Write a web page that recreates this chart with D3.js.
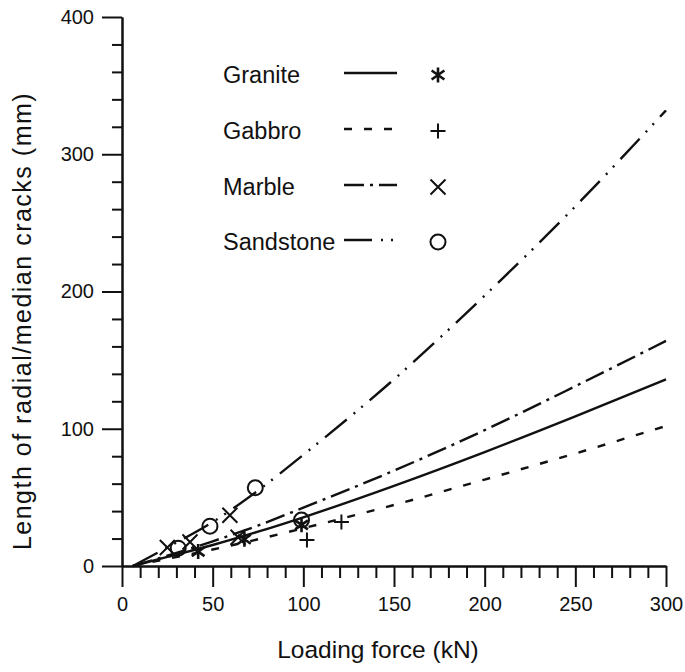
<!DOCTYPE html>
<html>
<head>
<meta charset="utf-8">
<script src="https://cdn.jsdelivr.net/npm/d3@7"></script>
<style>
  body { margin: 0; background: #fff; }
  svg text { font-family: "Liberation Sans", Arial, Helvetica, sans-serif; fill: #111; }
  .axis path, .axis line { stroke: #111; stroke-width: 2; }
</style>
</head>
<body>
<div id="chart"></div>
<script>
//DATA
const xTicks = [0, 50, 100, 150, 200, 250, 300];
const yTicks = [0, 100, 200, 300, 400];
const names  = ["Granite", "Gabbro", "Marble", "Sandstone"];

// fitted curves, [force kN, length mm]
const graniteCurve   = [[6,0],[25,6.6],[50,15.3],[75,25],[100,35.5],[150,58.4],[200,83],[250,109],[300,136]];
const gabbroCurve    = [[6,0],[25,5.2],[50,12],[75,19.5],[100,27.5],[150,44.5],[200,63],[250,82],[300,102]];
const marbleCurve    = [[6,0],[25,7.5],[50,18],[75,29.5],[100,42.5],[150,69.5],[200,99],[250,131],[300,164]];
const sandstoneCurve = [[6,0],[25,13.5],[50,32],[75,55],[100,81],[150,136],[200,197],[250,262],[300,332]];

// measured points
const granitePts   = [[42,10.5],[67.5,19.5],[99,30]];
const gabbroPts    = [[102,19],[121,32]];
const marblePts    = [[25,13.5],[37.5,17.5],[59.5,37],[64,21]];
const sandstonePts = [[31,13],[48.5,29],[73.5,57],[99,33.5]];

//LAYOUT
const W = 685, H = 672;
const x = d3.scaleLinear().domain([0, 300]).range([122, 666]);
const y = d3.scaleLinear().domain([0, 400]).range([566, 17]);

const svg = d3.select("#chart").append("svg")
  .attr("width", W).attr("height", H);

//Axes
svg.append("g").attr("class","axis").attr("transform","translate(0,566)")
  .call(d3.axisBottom(x).tickValues(d3.range(0, 301, 10).filter(v => v % 50)).tickSize(12).tickSizeOuter(0).tickFormat(""));
svg.append("g").attr("class","axis").attr("transform","translate(0,566)")
  .call(d3.axisBottom(x).tickValues(xTicks).tickSize(21).tickSizeOuter(0).tickPadding(10))
  .call(g => g.selectAll("text").attr("font-size", 20));

svg.append("g").attr("class","axis").attr("transform","translate(122,0)")
  .call(d3.axisLeft(y).tickValues(d3.range(0, 401, 20).filter(v => v % 100)).tickSize(10).tickSizeOuter(0).tickFormat(""));
svg.append("g").attr("class","axis").attr("transform","translate(122,0)")
  .call(d3.axisLeft(y).tickValues(yTicks).tickSize(20).tickSizeOuter(0).tickPadding(8))
  .call(g => g.selectAll("text").attr("font-size", 20));

svg.selectAll(".axis text").style("font-family", '"Liberation Sans", Arial, sans-serif');

//Axis titles
svg.append("text").attr("x", 378).attr("y", 658).attr("text-anchor","middle")
  .attr("font-size", 24.5).text("Loading force (kN)");
svg.append("text").attr("transform","translate(31,321) rotate(-90)").attr("text-anchor","middle")
  .attr("font-size", 25).attr("letter-spacing", 1.5).text("Length of radial/median cracks (mm)");

//Line styles
const dashes = {
  Granite: null,
  Gabbro: "8,12",
  Marble: "20,6,3,6",
  Sandstone: "28,9,2,8,2,9"
};
const curves = {Granite: graniteCurve, Gabbro: gabbroCurve, Marble: marbleCurve, Sandstone: sandstoneCurve};
const points = {Granite: granitePts, Gabbro: gabbroPts, Marble: marblePts, Sandstone: sandstonePts};

const line = d3.line().x(d => x(d[0])).y(d => y(d[1])).curve(d3.curveMonotoneX);

names.forEach(n => {
  svg.append("path").attr("d", line(curves[n]))
    .attr("fill","none").attr("stroke","#111").attr("stroke-width", 2.4)
    .attr("stroke-dasharray", dashes[n]);
});

//Marker shapes
function marker(g, n){
  const s = 7.5;
  if (n === "Granite") {
    g.append("path").attr("d", `M0,${-s}V${s}M${-s*0.85},${-s*0.6}L${s*0.85},${s*0.6}M${-s*0.85},${s*0.6}L${s*0.85},${-s*0.6}`)
      .attr("stroke","#111").attr("stroke-width", 2.6).attr("fill","none");
  } else if (n === "Gabbro") {
    g.append("path").attr("d", `M${-s},0H${s}M0,${-s}V${s}`)
      .attr("stroke","#111").attr("stroke-width", 2).attr("fill","none");
  } else if (n === "Marble") {
    g.append("path").attr("d", `M${-s},${-s}L${s},${s}M${-s},${s}L${s},${-s}`)
      .attr("stroke","#111").attr("stroke-width", 2).attr("fill","none");
  } else {
    g.append("circle").attr("r", 7.5)
      .attr("stroke","#111").attr("stroke-width", 2).attr("fill","none");
  }
}

names.forEach(n => {
  points[n].forEach(p => {
    const g = svg.append("g").attr("transform", `translate(${x(p[0])},${y(p[1])})`);
    marker(g, n);
  });
});

//Legend
const legendY = [75, 131, 187, 242];
names.forEach((n, i) => {
  const ly = legendY[i];
  svg.append("text").attr("x", 223).attr("y", ly + 8).attr("font-size", 23.5).text(n);
  svg.append("line").attr("x1", 344).attr("x2", 397).attr("y1", ly - 2).attr("y2", ly - 2)
    .attr("stroke","#111").attr("stroke-width", 2.4).attr("stroke-dasharray", dashes[n]);
  const g = svg.append("g").attr("transform", `translate(438,${ly})`);
  marker(g, n);
});
</script>
</body>
</html>
